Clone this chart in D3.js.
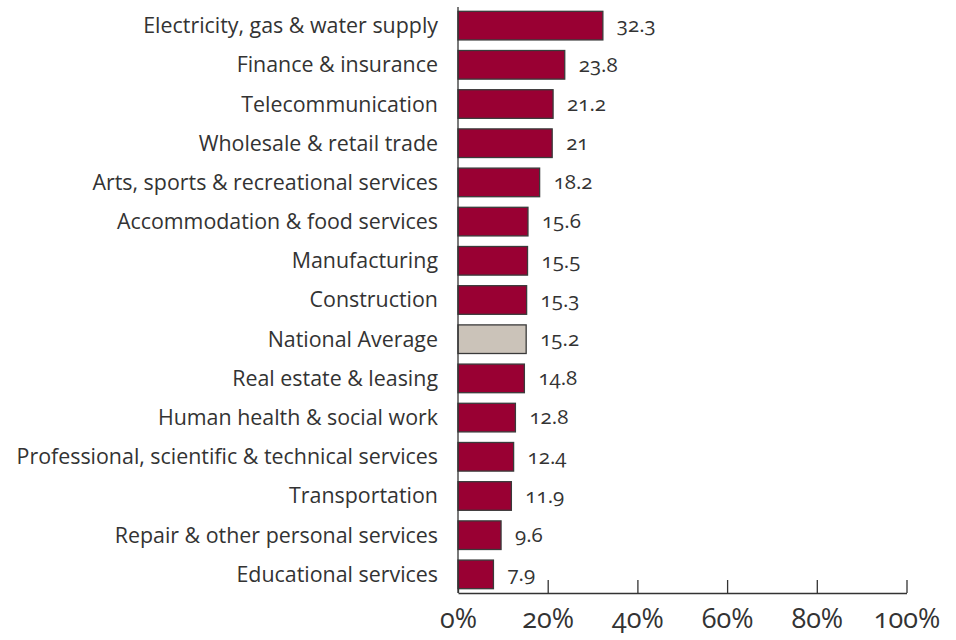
<!DOCTYPE html>
<html><head><meta charset="utf-8">
<script src="https://cdn.jsdelivr.net/npm/d3@7"></script>
<style>
body{margin:0;background:#fff;}
text{font-family:"Open Sans",Lato,sans-serif;font-variant-numeric:oldstyle-nums;font-feature-settings:"onum" 1;}
</style></head>
<body><svg id="c" width="956" height="640"></svg>
<script>
const categories = ["Electricity, gas & water supply","Finance & insurance","Telecommunication","Wholesale & retail trade","Arts, sports & recreational services","Accommodation & food services","Manufacturing","Construction","National Average","Real estate & leasing","Human health & social work","Professional, scientific & technical services","Transportation","Repair & other personal services","Educational services"];
const values = [32.3,23.8,21.2,21,18.2,15.6,15.5,15.3,15.2,14.8,12.8,12.4,11.9,9.6,7.9];
const valueLabels = ["32.3","23.8","21.2","21","18.2","15.6","15.5","15.3","15.2","14.8","12.8","12.4","11.9","9.6","7.9"];
const highlight = ["National Average"];
const tickValues = [0,20,40,60,80,100];

const svg = d3.select("#c");
const x = d3.scaleLinear().domain([0,100]).range([458,906.5]);
const y = d3.scaleBand().domain(categories).range([7,593]).paddingInner(0.27).paddingOuter(0.11);

svg.append("g").selectAll("rect").data(categories).join("rect")
  .attr("x", x(0)).attr("y", d=>y(d)).attr("height", y.bandwidth())
  .attr("width", (d,i)=>x(values[i])-x(0))
  .attr("fill", d=>highlight.includes(d)?"#cbc3b9":"#990033")
  .attr("stroke","#3a3a3a").attr("stroke-width",1.3);

svg.append("g").selectAll("text").data(categories).join("text")
  .attr("x",(d,i)=>x(values[i])+14).attr("y",d=>y(d)+y.bandwidth()/2)
  .attr("dy","0.33em").attr("font-size",20.5).attr("fill","#333")
  .text((d,i)=>valueLabels[i]);

// category labels
svg.append("g").selectAll("text").data(categories).join("text")
  .attr("x",438).attr("y",d=>y(d)+y.bandwidth()/2).attr("dy","0.35em")
  .attr("text-anchor","end").attr("font-size",21.4).attr("fill","#333").text(d=>d);

// vertical axis line
svg.append("line").attr("x1",x(0)).attr("x2",x(0)).attr("y1",7).attr("y2",593)
  .attr("stroke","#333").attr("stroke-width",1.3);

const xAxis = d3.axisBottom(x).tickValues(tickValues).tickSize(-13).tickSizeOuter(0).tickFormat(d=>d+"%");
const gx = svg.append("g").attr("transform","translate(0,593)").call(xAxis);
gx.select(".domain").attr("stroke","#333").attr("stroke-width",1.3);
gx.selectAll(".tick line").attr("stroke","#333").attr("stroke-width",1.3);
gx.selectAll(".tick text").attr("y",35).attr("dy",0).attr("font-size",27).attr("fill","#333")
  .attr("font-family","'Open Sans',Lato,sans-serif");
</script></body></html>
